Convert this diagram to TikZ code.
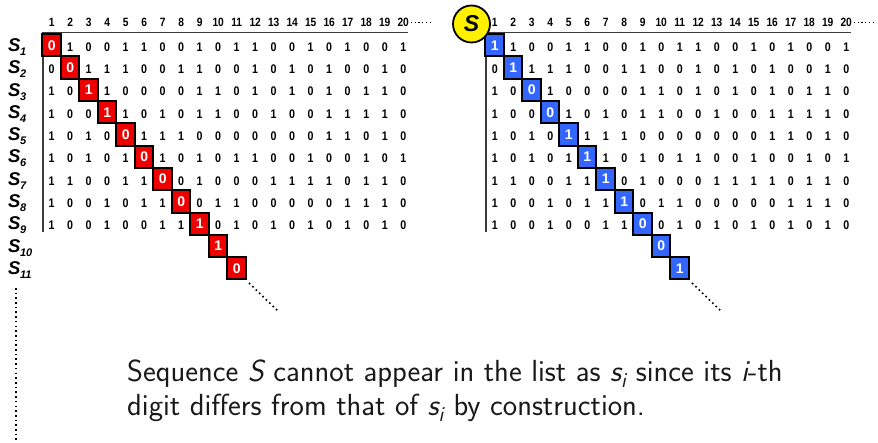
\documentclass[tikz,border=0pt]{standalone}
\usepackage{fontspec}
\newfontfamily\digfont[FakeStretch=0.85]{Liberation Sans}
\newfontfamily\lblfont{Liberation Sans}
\usetikzlibrary{calc}

\definecolor{cellred}{RGB}{238,0,0}
\definecolor{cellblue}{RGB}{51,102,255}
\definecolor{rulegray}{RGB}{60,60,60}
\definecolor{sunyellow}{RGB}{255,240,0}

% column / row positions of the digit grid
\newcommand\colx[1]{(51.7+18.5*(#1-1))}
\newcommand\rowy[1]{(46.5+22.3*(#1-1))}

\tikzset{
  digit/.style={inner sep=0pt, font=\digfont\bfseries\fontsize{12.5}{12.5}\selectfont},
  hdr/.style={inner sep=0pt, font=\digfont\bfseries\fontsize{12}{12}\selectfont},
  diagcell/.style={draw=black, line width=2pt, minimum width=18.5pt, minimum height=22.3pt,
    inner sep=0pt, text=white, font=\lblfont\bfseries\fontsize{14}{14}\selectfont},
  rowlabel/.style={inner sep=0pt, anchor=base west},
  gridrule/.style={draw=rulegray, line width=1.8pt},
  dotline/.style={line width=1.6pt, dash pattern=on 1.6pt off 3.1pt},
}

% one panel: #1 = name prefix, #2 = fill of the diagonal cells, #3 = 1 to flip the diagonal
\newcommand\digitpanel[3]{%
  \foreach \c in {1,...,20}
    \node[hdr] (#1-h\c) at ({\colx{\c}},22) {\c};
  \foreach \row [count=\r] in {
      {0,1,0,0,1,1,0,0,1,0,1,1,0,0,1,0,1,0,0,1},
      {0,0,1,1,1,0,0,1,1,0,0,1,0,1,0,1,0,0,1,0},
      {1,0,1,1,0,0,0,0,1,1,0,1,0,1,0,1,0,1,1,0},
      {1,0,0,1,1,0,1,0,1,1,0,0,1,0,0,1,1,1,1,0},
      {1,0,1,0,0,1,1,1,0,0,0,0,0,0,0,1,1,0,1,0},
      {1,0,1,0,1,0,1,0,1,0,1,1,0,0,1,0,0,1,0,1},
      {1,1,0,0,1,1,0,0,1,0,0,0,1,1,1,1,0,1,1,0},
      {1,0,0,1,0,1,1,0,0,1,1,0,0,0,0,0,1,1,1,0},
      {1,0,0,1,0,0,1,1,1,0,1,0,1,0,1,0,1,0,1,0}}{
    \foreach \d [count=\c] in \row {
      \ifnum\c=\r\else
        \node[digit] (#1-\r-\c) at ({\colx{\c}},{\rowy{\r}+0.5}) {\d};
      \fi
    }
  }
  % header rule and left rule
  \coordinate (#1-tl) at (43,32.5);
  \coordinate (#1-tr) at (408,32.5);
  \coordinate (#1-bl) at (43,232);
  \draw[gridrule] (#1-tr) -- (#1-tl) -- (#1-bl);
  % trailing dots after the last column number
  \coordinate (#1-ha) at (411,22.5);
  \coordinate (#1-hb) at (431,22.5);
  \draw[dotline, line width=1.3pt, dash pattern=on 1.3pt off 2.4pt] (#1-ha) -- (#1-hb);
  % diagonal cells
  \foreach \d [count=\k] in {0,0,1,1,0,0,0,0,1,1,0} {
    \pgfmathtruncatemacro\dd{#3==1 ? 1-\d : \d}
    \node[diagcell, fill=#2] (#1-d\k) at ({\colx{\k}},{\rowy{\k}-1.2}) {\dd};
  }
  % continuation of the diagonal
  \coordinate (#1-ca) at (249,283);
  \coordinate (#1-cb) at (279,312);
  \draw[dotline] (#1-ca) -- (#1-cb);
}

\begin{document}
\begin{tikzpicture}[x=1pt, y=-1pt]
  \useasboundingbox (0,0) rectangle (878,443);

  % left panel: the enumerated sequences
  \digitpanel{L}{cellred}{0}

  % row labels s_1 ... s_11
  \foreach \r in {1,...,11}
    \node[rowlabel] (lab\r) at (8,{\rowy{\r}+5}) {\lblfont\bfseries\itshape
      \fontsize{18.5}{18.5}\selectfont S\kern-0.5pt\raisebox{-4pt}{\fontsize{11}{11}\selectfont\r}};

  % the list goes on
  \coordinate (va) at (16,288);
  \coordinate (vb) at (16,443);
  \draw[dotline] (va) -- (vb);

  % right panel: the diagonal sequence S
  \begin{scope}[xshift=443pt]
    \digitpanel{R}{cellblue}{1}
  \end{scope}

  % the label S in its yellow disc
  \node[circle, draw=black, line width=1.8pt, fill=sunyellow, minimum size=37pt, inner sep=0pt,
        font=\lblfont\bfseries\itshape\fontsize{23}{23}\selectfont] (bigS) at (471.5,24) {S};

  % explanation
  \node[anchor=north west, align=left, inner sep=0pt, text=black!90,
        font=\sffamily\fontsize{30.5}{34}\selectfont] (note) at (127,360)
    {Sequence {\itshape S} cannot appear in the list as {\itshape s}\textsubscript{\itshape i} since its {\itshape i}-th\\
     digit differs from that of {\itshape s}\textsubscript{\itshape i} by construction.};
\end{tikzpicture}
\end{document}
